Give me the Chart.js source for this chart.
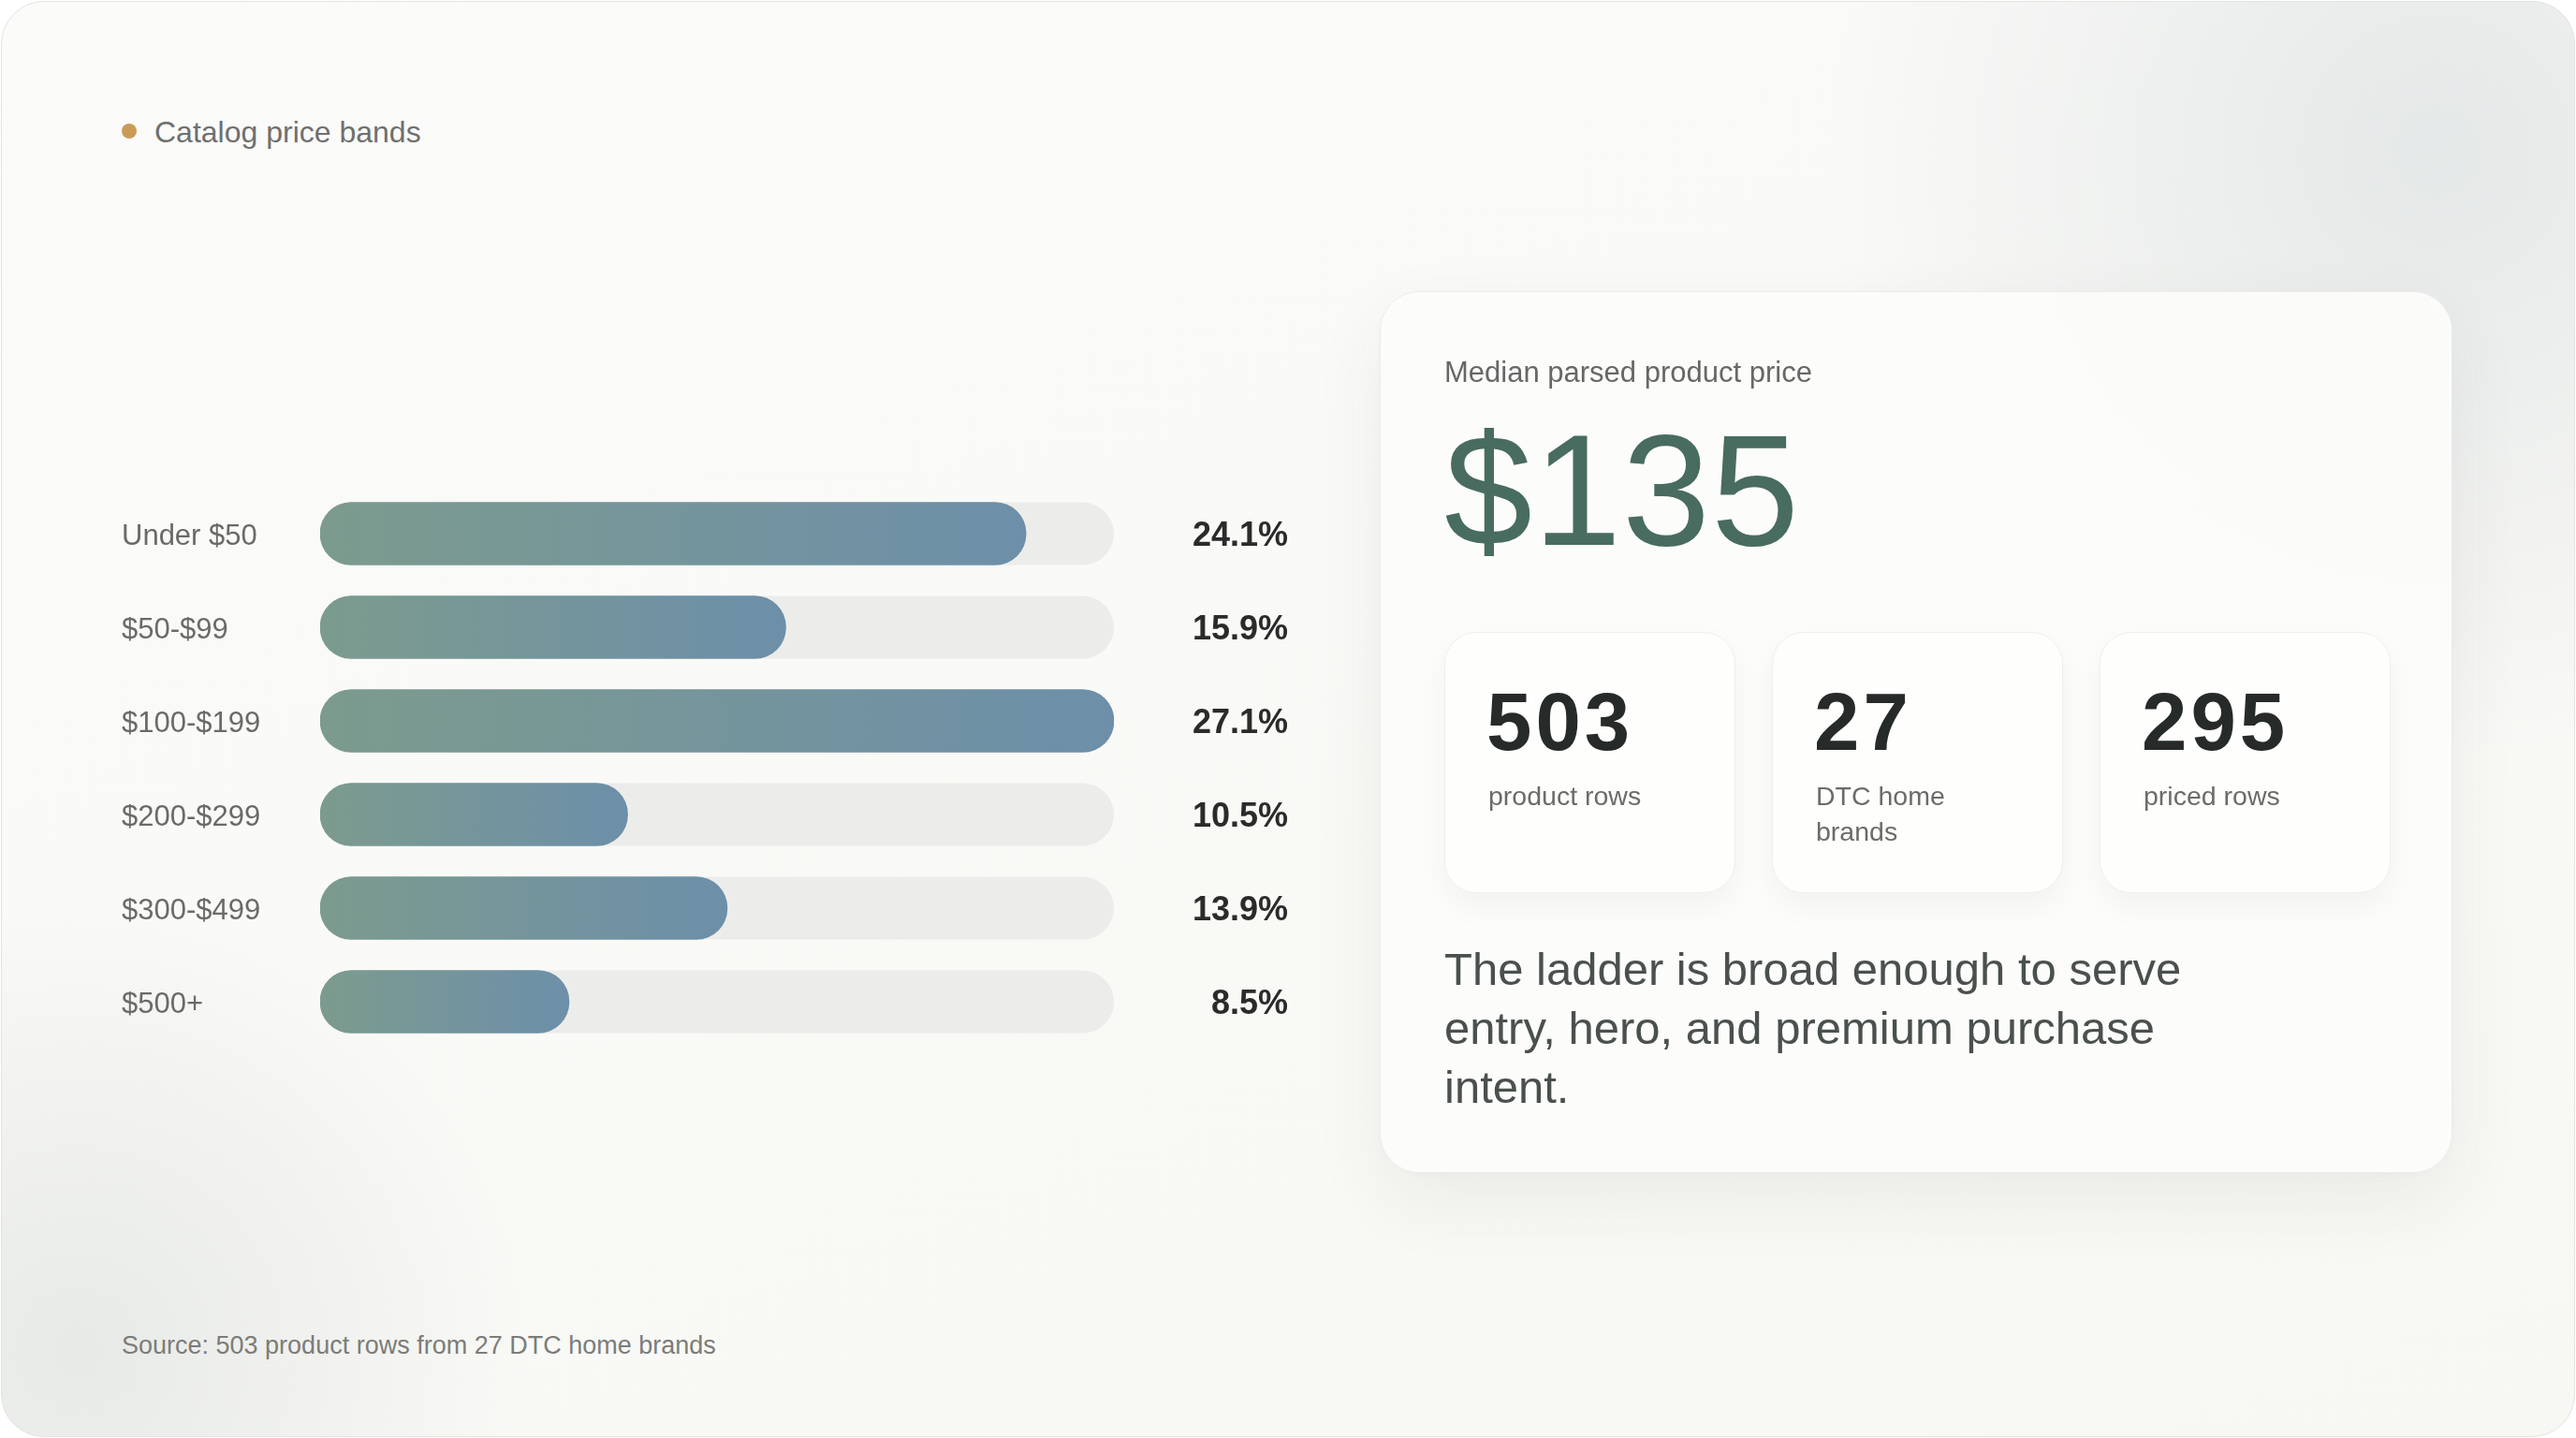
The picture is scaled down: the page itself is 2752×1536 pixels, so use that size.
<!DOCTYPE html>
<html>
<head>
<meta charset="utf-8">
<script src="https://cdn.jsdelivr.net/npm/chart.js@4.4.1/dist/chart.umd.min.js"></script>
<style>
  html, body { margin: 0; padding: 0; background: #ffffff; }
  body { width: 2752px; height: 1536px; position: relative; overflow: hidden;
         font-family: "Liberation Sans", Arial, Helvetica, sans-serif; }
  .frame { position: absolute; left: 1px; top: 1px; width: 2748px; height: 1532px;
    border: 1px solid #e3e3e0; border-radius: 46px; overflow: hidden;
    background:
      radial-gradient(circle 650px at 2600px 160px, rgba(226,230,230,0.9) 0%, rgba(226,230,230,0) 100%),
      radial-gradient(circle 480px at 80px 1440px, rgba(228,231,228,0.85) 0%, rgba(228,231,228,0) 100%),
      linear-gradient(160deg, #fbfbfa 0%, #f9f9f6 55%, #f7f7f4 100%);
  }
  .abs { position: absolute; white-space: nowrap; line-height: 1; }
  .dot { position: absolute; left: 130px; top: 132px; width: 16px; height: 16px; border-radius: 50%; background: #c99b57; }
  .legend { left: 165px; top: 125px; font-size: 32px; color: #6f6f6d; }
  .source { left: 130px; top: 1424px; font-size: 27px; color: #7c7c79; }
  #chartWrap { position: absolute; left: 130px; top: 520px; width: 1246px; height: 600px; }
  .card { position: absolute; left: 1474px; top: 311px; width: 1146px; height: 942px; box-sizing: border-box;
    border-radius: 42px; background: rgba(252,252,251,0.92); border: 1px solid #ecebe8;
    box-shadow: 0 30px 80px rgba(60,60,50,0.07), 0 2px 8px rgba(0,0,0,0.025); }
  .median-label { left: 1543px; top: 382px; font-size: 31px; color: #666866; }
  .median { left: 1543px; top: 439px; font-size: 169px; color: #486c5f; letter-spacing: 1px; }
  .stat { position: absolute; top: 675px; width: 311px; height: 279px; box-sizing: border-box;
    border-radius: 34px; background: #fefefd; border: 1px solid #efefec;
    box-shadow: 0 14px 34px rgba(0,0,0,0.045); }
  .stat .num { position: absolute; left: 44px; top: 51px; font-size: 87px; font-weight: 700; color: #262a28; line-height: 1; letter-spacing: 4px; }
  .stat .lbl { position: absolute; left: 46px; top: 155px; width: 210px; font-size: 28.5px; line-height: 38px; color: #6b6c6a; white-space: normal; }
  .note { position: absolute; left: 1543px; top: 1004px; font-size: 49px; line-height: 63px; color: #4a504d; white-space: nowrap; }
</style>
</head>
<body>
<div class="frame"></div>
<div class="dot"></div>
<div class="abs legend">Catalog price bands</div>
<div id="chartWrap"><canvas id="c" width="1246" height="600"></canvas></div>
<div class="abs source">Source: 503 product rows from 27 DTC home brands</div>

<div class="card"></div>
<div class="abs median-label">Median parsed product price</div>
<div class="abs median">$135</div>
<div class="stat" style="left:1543px"><div class="num">503</div><div class="lbl">product rows</div></div>
<div class="stat" style="left:1893px"><div class="num">27</div><div class="lbl">DTC home brands</div></div>
<div class="stat" style="left:2243px"><div class="num">295</div><div class="lbl">priced rows</div></div>
<div class="note">The ladder is broad enough to serve<br>entry, hero, and premium purchase<br>intent.</div>

<script>
// ---- data ----
const bands = ["Under $50", "$50-$99", "$100-$199", "$200-$299", "$300-$499", "$500+"];
const shares = [24.1, 15.9, 27.1, 10.5, 13.9, 8.5];
const shareLabels = shares.map(v => v.toFixed(1) + "%");

// ---- styles ----
const BAR_THICK = 67;
const gradLeft = "#7c9b8e";
const gradRight = "#6d8fa9";
const trackColor = "#ecedea";

const trackPlugin = {
  id: "track",
  beforeDatasetsDraw(chart) {
    const { ctx, chartArea } = chart;
    const ys = chart.scales.y;
    ctx.save();
    ctx.fillStyle = trackColor;
    bands.forEach((b, i) => {
      const yc = ys.getPixelForValue(i);
      ctx.beginPath();
      ctx.roundRect(chartArea.left, yc - BAR_THICK / 2, chartArea.right - chartArea.left, BAR_THICK, BAR_THICK / 2);
      ctx.fill();
    });
    ctx.restore();
  }
};

function barGradient(c) {
  const chart = c.chart;
  const xs = chart.scales && chart.scales.x;
  if (!xs || c.dataIndex === undefined || !chart.chartArea) return gradLeft;
  const x0 = xs.getPixelForValue(0);
  const x1 = xs.getPixelForValue(shares[c.dataIndex]);
  const g = chart.ctx.createLinearGradient(x0, 0, Math.max(x1, x0 + 1), 0);
  g.addColorStop(0, gradLeft);
  g.addColorStop(1, gradRight);
  return g;
}

new Chart(document.getElementById("c"), {
  type: "bar",
  data: {
    labels: bands,
    datasets: [{
      label: "Share of priced products",
      data: shares,
      backgroundColor: barGradient,
      borderRadius: 40,
      borderSkipped: false,
      barThickness: BAR_THICK,
      yAxisID: "y",
      xAxisID: "x"
    }]
  },
  options: {
    indexAxis: "y",
    responsive: false,
    animation: false,
    layout: { padding: 0 },
    plugins: { legend: { display: false }, tooltip: { enabled: false } },
    scales: {
      x: { display: false, min: 0, max: Math.max(...shares) },
      y: {
        type: "category",
        position: "left",
        offset: true,
        grid: { display: false },
        border: { display: false },
        ticks: { crossAlign: "far", padding: 0, labelOffset: 3, color: "#6a6a68",
                 font: { family: "Liberation Sans", size: 31 } },
        afterFit(s) { s.width = 212; s.paddingTop = 0; s.paddingBottom = 0; }
      },
      y2: {
        type: "category",
        position: "right",
        labels: shareLabels,
        offset: true,
        grid: { display: false },
        border: { display: false },
        ticks: { crossAlign: "far", padding: 0, labelOffset: 3, color: "#2a2c2b",
                 font: { family: "Liberation Sans", size: 36, weight: "bold" } },
        afterFit(s) { s.width = 186; s.paddingTop = 0; s.paddingBottom = 0; }
      }
    }
  },
  plugins: [trackPlugin]
});
</script>
</body>
</html>
